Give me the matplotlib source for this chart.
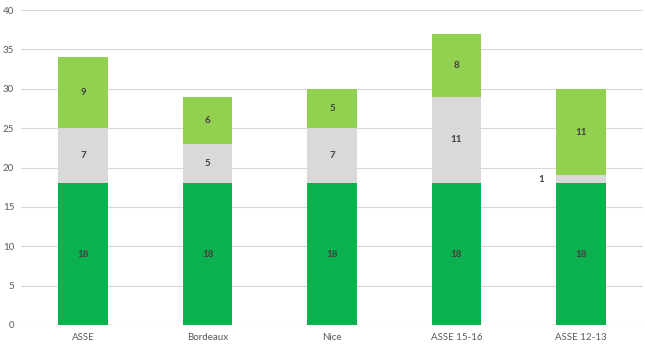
import matplotlib
matplotlib.use("Agg")
import matplotlib.pyplot as plt
import numpy as np

plt.rcParams['font.family'] = ['Lato', 'DejaVu Sans']

categories = ["ASSE", "Bordeaux", "Nice", "ASSE 15-16", "ASSE 12-13"]
s1 = [18, 18, 18, 18, 18]
s2 = [7, 5, 7, 11, 1]
s3 = [9, 6, 5, 8, 11]
yticks = [0, 5, 10, 15, 20, 25, 30, 35, 40]

colors = ["#0BB04F", "#D9D9D9", "#92D050"]

fig = plt.figure(figsize=(6.45, 3.54), dpi=100)
ax = fig.add_axes([21/645, 29/354, 622/645, 315/354])

x = np.arange(len(categories))
w = 0.4
bottom = np.zeros(len(categories))
for vals, c in zip([s1, s2, s3], colors):
    ax.bar(x, vals, w, bottom=bottom, color=c, zorder=2)
    for xi, v, b in zip(x, vals, bottom):
        if v >= 2:
            ax.text(xi, b + v / 2, str(v), ha='center', va='center',
                    fontsize=7, fontweight='bold', color='#404040', zorder=3)
        else:
            ax.text(xi - 0.32, b + v / 2, str(v), ha='center', va='center',
                    fontsize=7, fontweight='bold', color='#404040', zorder=3)
    bottom = bottom + np.array(vals)

ax.set_xlim(-0.5, 4.5)
ax.set_ylim(0, 40)
ax.set_yticks(yticks)
ax.set_xticks(x)
ax.set_xticklabels(categories)
ax.yaxis.grid(True, color='#D9D9D9', linewidth=0.8, zorder=0)
ax.set_axisbelow(True)
for sp in ax.spines.values():
    sp.set_visible(False)
ax.tick_params(axis='both', length=0, labelsize=7, colors='#595959')
ax.tick_params(axis='y', pad=5)
ax.tick_params(axis='x', pad=6)

fig.savefig("out.png", dpi=100)
